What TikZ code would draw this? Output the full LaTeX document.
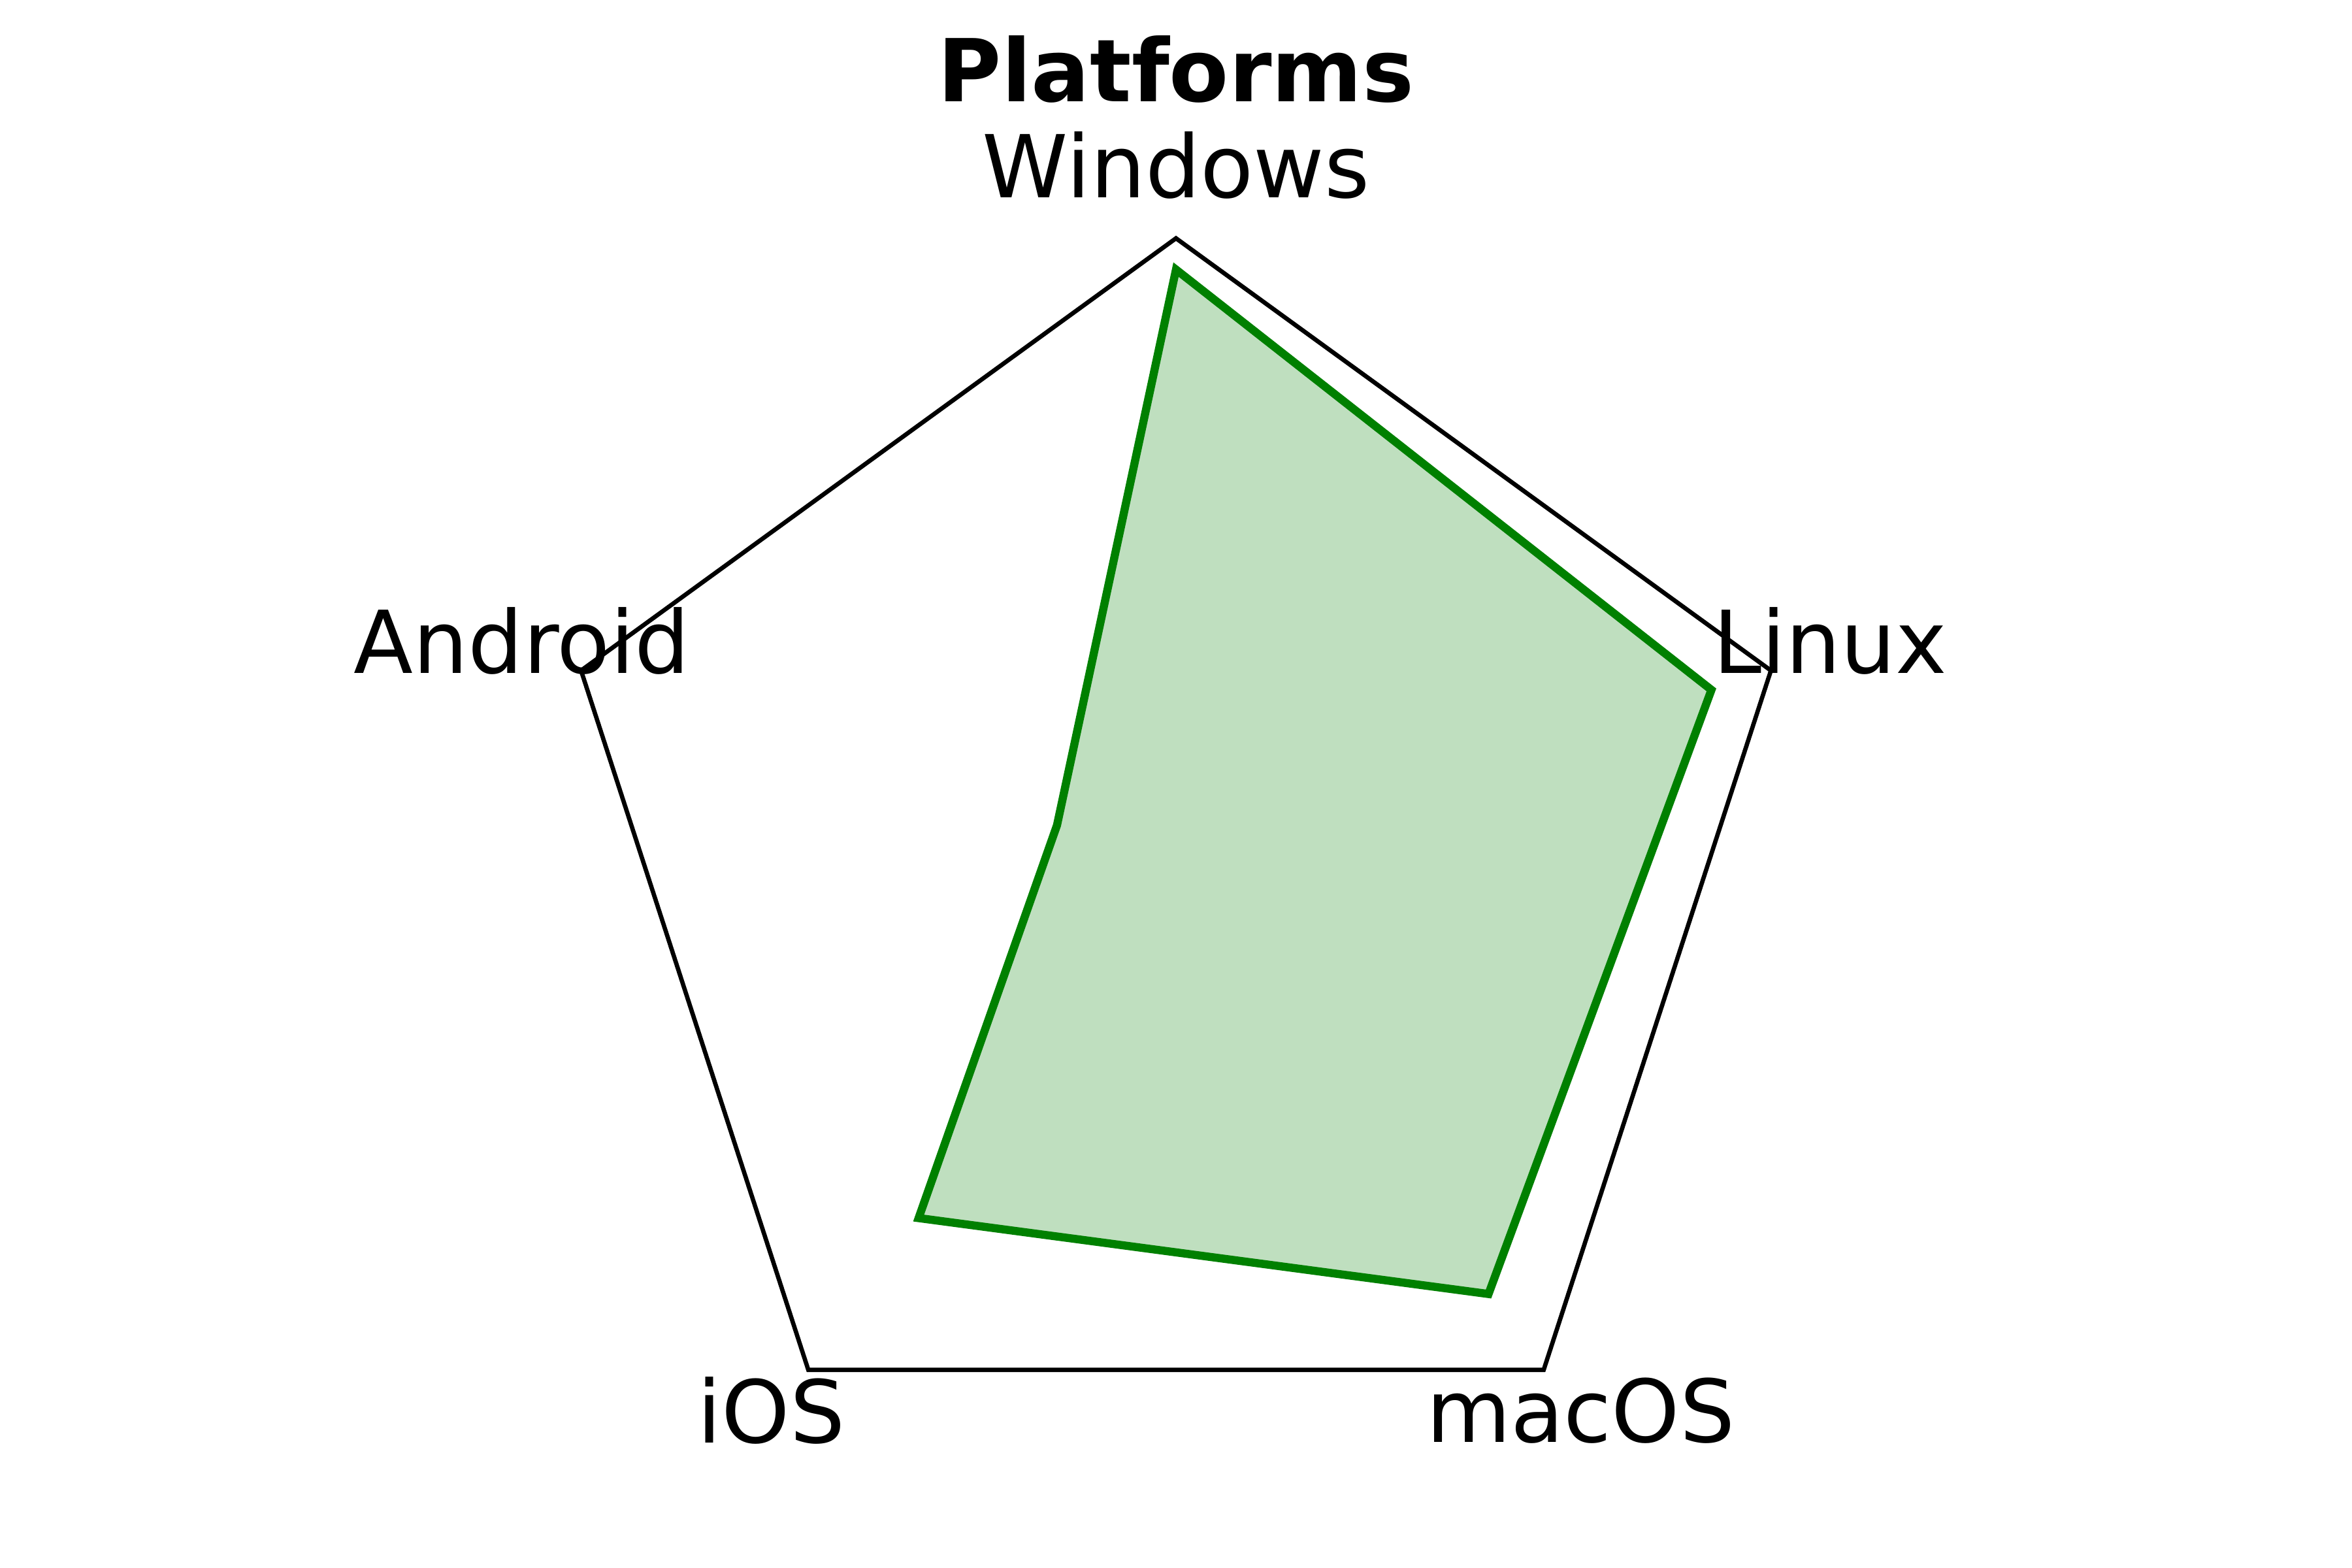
\documentclass[tikz,border=0pt]{standalone}
\usepackage{fontspec}
\setmainfont{DejaVu Sans}
\usetikzlibrary{shapes, arrows}
\usepackage{color}
\definecolor{plotgreen}{RGB}{0,128,0}
\tikzstyle{axislabel} = [font=\fontsize{16}{19}\selectfont, inner sep=0pt, text centered]
\tikzstyle{charttitle} = [font=\fontsize{16}{19}\selectfont\bfseries, inner sep=0pt, text centered]
\tikzstyle{frame} = [draw=black, line width=0.8pt, line join=miter]
\tikzstyle{scores} = [draw=plotgreen, line width=1.5pt, fill=plotgreen, fill opacity=0.25, line join=miter]

\begin{document}
\begin{tikzpicture}[x=4.053cm, y=4.053cm]
    \useasboundingbox (-1.880,-1.1253) rectangle (1.880,1.381);
    % outer pentagon, one corner per platform
    \coordinate (windows) at (90:1);
    \coordinate (linux) at (18:1);
    \coordinate (macos) at (-54:1);
    \coordinate (ios) at (-126:1);
    \coordinate (android) at (162:1);
    \draw [frame] (windows) -- (linux) -- (macos) -- (ios) -- (android) -- cycle;

    % scores
    \coordinate (windowsScore) at (90:0.95);
    \coordinate (linuxScore) at (18:0.9);
    \coordinate (macosScore) at (-54:0.85);
    \coordinate (iosScore) at (-126:0.7);
    \coordinate (androidScore) at (162:0.2);
    \draw [scores] (windowsScore) -- (linuxScore) -- (macosScore) -- (iosScore) -- (androidScore) -- cycle;

    \node (windowsLabel) [axislabel] at (0,1.117) {Windows};
    \node (linuxLabel) [axislabel] at (1.046,0.356) {Linux};
    \node (macosLabel) [axislabel] at (0.647,-0.874) {macOS};
    \node (iosLabel) [axislabel] at (-0.647,-0.874) {iOS};
    \node (androidLabel) [axislabel] at (-1.046,0.356) {Android};
    \node (title) [charttitle] at (0,1.270) {Platforms};
\end{tikzpicture}
\end{document}
